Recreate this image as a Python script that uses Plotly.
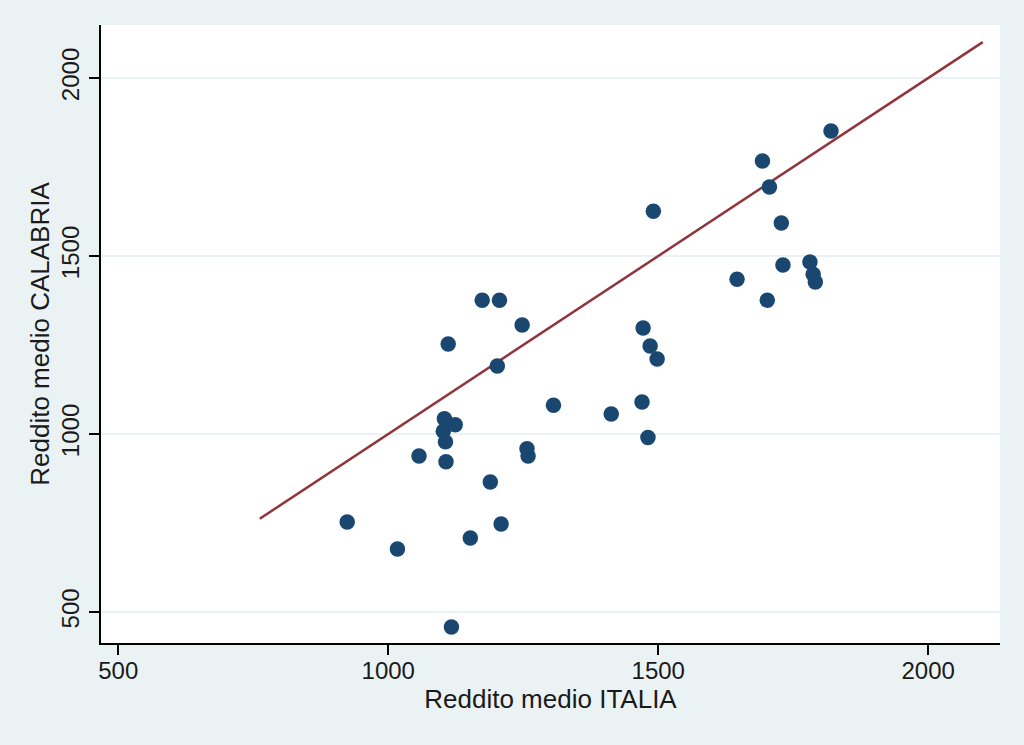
import plotly.graph_objects as go

italia = [924, 1017, 1057, 1104, 1102, 1106, 1107, 1111, 1124, 1117, 1152, 1174, 1189,
          1202, 1206, 1209, 1248, 1257, 1259, 1306, 1413, 1470, 1472, 1481, 1485, 1491,
          1498, 1646, 1693, 1702, 1706, 1728, 1731, 1781, 1787, 1791, 1820]
calabria = [753, 677, 938, 1043, 1008, 978, 922, 1253, 1026, 458, 708, 1376, 865,
            1191, 1376, 747, 1306, 959, 938, 1081, 1056, 1090, 1298, 990, 1247, 1626,
            1211, 1435, 1767, 1376, 1694, 1593, 1475, 1483, 1449, 1427, 1851]
line_x = [762, 2101]
line_y = [762, 2101]
x_ticks = [500, 1000, 1500, 2000]
y_ticks = [500, 1000, 1500, 2000]

fig = go.Figure()
fig.add_trace(go.Scatter(x=line_x, y=line_y, mode="lines",
                         line=dict(color="#90353b", width=2.5), showlegend=False))
fig.add_trace(go.Scatter(x=italia, y=calabria, mode="markers",
                         marker=dict(color="#1a476f", size=15.5, line=dict(width=0)),
                         showlegend=False))

tick_font = dict(family="Liberation Sans, Arial, sans-serif", size=24, color="#1a1a1a")
title_font = dict(family="Liberation Sans, Arial, sans-serif", size=26, color="#1a1a1a")
fig.update_layout(
    width=1024, height=745,
    paper_bgcolor="#eaf2f3", plot_bgcolor="#ffffff",
    margin=dict(l=101, r=24, t=25, b=102),
    font=tick_font,
    xaxis=dict(range=[468, 2133], tickvals=x_ticks, ticks="outside", ticklen=10,
               tickwidth=1.5, tickcolor="#000", showgrid=False, zeroline=False,
               showline=True, linecolor="#000", linewidth=2, ticklabelstandoff=-5,
               title=dict(text="Reddito medio ITALIA", font=title_font, standoff=6),
               tickfont=tick_font),
    yaxis=dict(range=[413, 2149], tickvals=y_ticks, ticks="outside", ticklen=10,
               tickwidth=1.5, tickcolor="#000", showgrid=True, gridcolor="#eaf2f3",
               gridwidth=2, zeroline=False, showline=True, linecolor="#000",
               linewidth=2, tickangle=-90, ticklabelstandoff=0,
               title=dict(text="Reddito medio CALABRIA", font=title_font, standoff=0),
               tickfont=tick_font),
)
fig.write_html("out.html")
